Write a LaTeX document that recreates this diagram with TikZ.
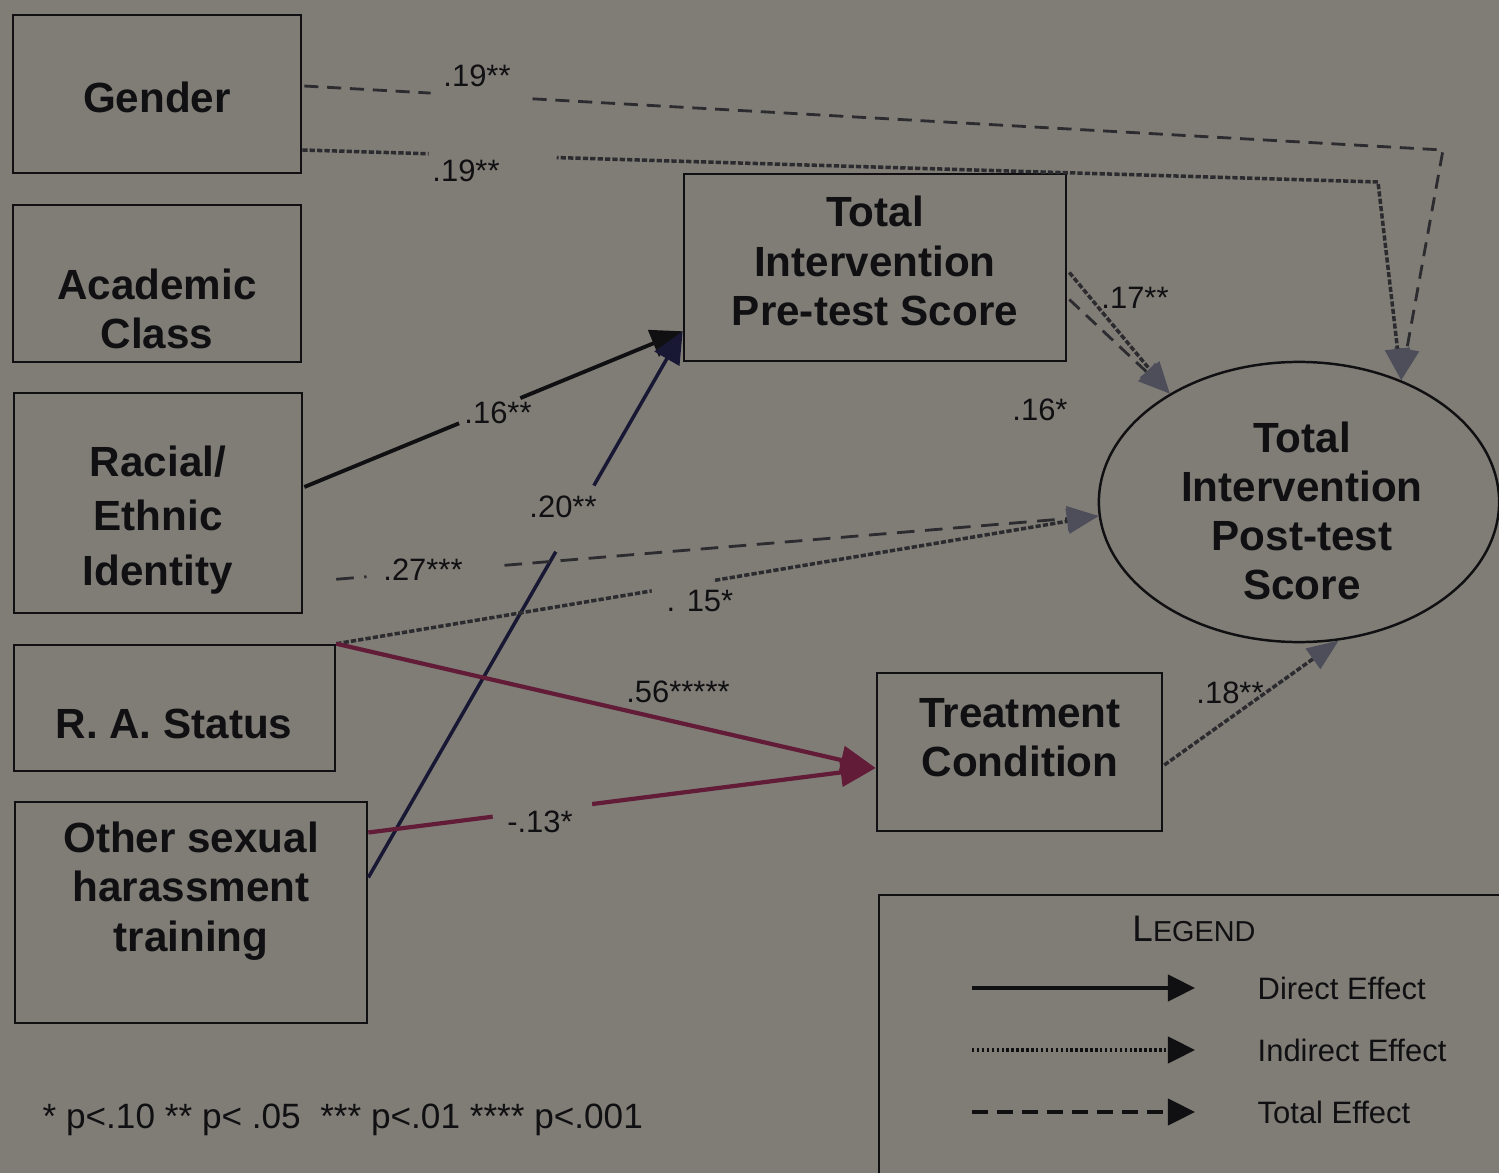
\documentclass[tikz,border=0pt]{standalone}
\usepackage{fontspec}
\setmainfont{Liberation Sans}
\usetikzlibrary{arrows.meta,shapes.geometric,calc}

\definecolor{paper}{RGB}{128,125,119}
\definecolor{ink}{RGB}{16,16,18}
\definecolor{wine}{RGB}{98,28,55}
\definecolor{navyink}{RGB}{24,24,52}
\definecolor{smoke}{RGB}{44,44,48}
\definecolor{tipgray}{RGB}{78,78,90}

\tikzset{
  box/.style={draw=ink, line width=0.7pt, inner sep=0pt},
  boxtext/.style={font=\bfseries\fontsize{12}{14}\selectfont, align=center, text=ink, inner sep=0pt},
  lab/.style={font=\fontsize{8.8}{10}\selectfont, text=ink, inner sep=0pt},
  legtext/.style={font=\fontsize{8.8}{10}\selectfont, text=ink, inner sep=0pt, anchor=west},
  gapmask/.style={fill=paper, inner sep=0pt, minimum height=1.3mm, sloped},
  bigtip/.style={-{Triangle[length=9pt,width=8pt]}},
  greytip/.style={-{Triangle[length=9pt,width=7pt,color=tipgray]}},
  legtip/.style={-{Triangle[length=7.7pt,width=7.5pt]}},
  directline/.style={line width=1.1pt},
  indirectline/.style={smoke, line width=1pt, dash pattern=on 1.5pt off 0.6pt},
  totalline/.style={smoke, line width=0.8pt, dash pattern=on 4pt off 2.5pt},
}

\begin{document}
\begin{tikzpicture}[x=0.01cm,y=-0.01cm]
\clip (0,0) rectangle (1499,1173);
\fill[paper] (0,0) rectangle (1499,1173);

% ---------- variable boxes ----------
\node[box, minimum width=2.88cm, minimum height=1.58cm] (gender) at (157,94) {};
\node[boxtext] (gendertxt) at (157,97) {Gender};

\node[box, minimum width=2.88cm, minimum height=1.57cm] (acad) at (157,283.5) {};
\node[boxtext] (acadtxt) at (157,309) {Academic\\Class};

\node[box, minimum width=2.88cm, minimum height=2.20cm] (racial) at (158,503) {};
\node[boxtext, font=\bfseries\fontsize{12}{15.5}\selectfont] (racialtxt) at (158,520) {Racial/\\Ethnic\\Identity};

\node[box, minimum width=3.21cm, minimum height=1.26cm] (ra) at (174.5,708) {};
\node[boxtext] (ratxt) at (174,724) {R. A. Status};

\node[box, minimum width=3.52cm, minimum height=2.21cm] (other) at (191,912.5) {};
\node[boxtext] (othertxt) at (191,891) {Other sexual\\harassment\\training};

\node[box, minimum width=3.82cm, minimum height=1.87cm] (pre) at (875,267.5) {};
\node[boxtext] (pretxt) at (875,261) {Total\\Intervention\\Pre-test Score};

\node[box, minimum width=2.85cm, minimum height=1.58cm] (treat) at (1019.5,752) {};
\node[boxtext] (treattxt) at (1020,738) {Treatment\\Condition};

\node[draw=ink, line width=0.7pt, ellipse, inner sep=0pt,
      minimum width=4.0cm, minimum height=2.8cm] (post) at (1299,502) {};
\node[boxtext] (posttxt) at (1302,511) {Total\\Intervention\\Post-test\\Score};

% ---------- bend points ----------
\coordinate (gtotbend) at (1443,150);
\coordinate (gindbend) at (1378,182);

% ---------- gender paths ----------
\draw[totalline, greytip] ($(gender.east)+(2,-8)$)
  -- node[gapmask, pos=0.153, minimum width=0.96cm] (m1) {} (gtotbend) -- (post.50);
\draw[indirectline, greytip] ($(gender.east)+(0,56)$)
  -- node[gapmask, pos=0.177, minimum width=1.28cm] (m2) {} (gindbend) -- (post.50);

% ---------- paths into the pre-test score ----------
\draw[directline, ink, bigtip] ($(racial.east)+(1,-16)$)
  -- node[gapmask, pos=0.49, minimum width=0.66cm] (m3) {} ($(pre.south west)+(0,-31)$);
\draw[directline, navyink, line width=1pt, bigtip] ($(other.east)+(0,-35)$)
  -- node[gapmask, pos=0.657, minimum width=0.76cm] (m4) {} ($(pre.south west)+(0,-31)$);

% ---------- paths into the post-test score ----------
\draw[totalline, greytip, shorten <=0.33cm, dash pattern=on 5pt off 3pt] ($(racial.east)+(0,79)$)
  -- node[gapmask, pos=0.166, minimum width=1.38cm] (m5) {} (post.184);
\draw[indirectline, greytip] (ra.north east)
  -- node[gapmask, pos=0.454, minimum width=0.62cm] (m6) {} (post.184);
\draw[indirectline, greytip] ($(pre.east)+(2,5)$) -- (post.140);
\draw[totalline, greytip] ($(pre.east)+(2,32)$) -- (post.140);
\draw[indirectline, greytip] ($(treat.east)+(1,13)$) -- (post.286);

% ---------- paths into the treatment condition ----------
\draw[directline, wine, line width=1.2pt, -{Triangle[length=10pt,width=8pt]}] (ra.north east) -- ($(treat.west)+(0,16)$);
\draw[directline, wine, line width=1.2pt, -{Triangle[length=10pt,width=8pt]}] ($(other.east)+(0,-80)$)
  -- node[gapmask, pos=0.343, minimum width=1.0cm] (m7) {} ($(treat.west)+(0,16)$);

% ---------- coefficients ----------
\node[lab] (c1) at (477,76) {.19**};
\node[lab] (c2) at (466,171) {.19**};
\node[lab] (c3) at (1135,298) {.17**};
\node[lab] (c4) at (1040,410) {.16*};
\node[lab] (c5) at (498,413) {.16**};
\node[lab] (c6) at (563,507) {.20**};
\node[lab] (c7) at (423,570) {.27***};
\node[lab] (c8) at (700,601) {. 15*};
\node[lab] (c9) at (678,692) {.56*****};
\node[lab] (c10) at (540,822) {-.13*};
\node[lab] (c11) at (1230,693) {.18**};

% ---------- legend ----------
\node[draw=ink, line width=0.7pt, inner sep=0pt, anchor=north west,
      minimum width=7cm, minimum height=3.5cm] (legend) at (878,894) {};
\node[lab, font=\fontsize{10.5}{12}\selectfont] (legtitle) at (1194,929)
  {L{\fontsize{8.2}{10}\selectfont EGEND}};
\coordinate (ld0) at (972,988);   \coordinate (ld1) at (1195,988);
\coordinate (li0) at (972,1050);  \coordinate (li1) at (1195,1050);
\coordinate (lt0) at (972,1112);  \coordinate (lt1) at (1195,1112);
\draw[ink, line width=0.9pt, legtip] (ld0) -- (ld1);
\draw[ink, line width=0.9pt, dash pattern=on 0.7pt off 0.7pt, legtip] (li0) -- (li1);
\draw[ink, line width=0.9pt, dash pattern=on 4.5pt off 2.6pt, legtip] (lt0) -- (lt1);
\node[legtext] (ldtxt) at (1257,988) {Direct Effect};
\node[legtext] (litxt) at (1257,1050) {Indirect Effect};
\node[legtext] (lttxt) at (1257,1112) {Total Effect};

% ---------- significance note ----------
\node[lab, font=\fontsize{10}{12}\selectfont, anchor=west] (note) at (42,1120)
  {* p<.10 ** p< .05\ \ *** p<.01 **** p<.001};
\end{tikzpicture}
\end{document}
